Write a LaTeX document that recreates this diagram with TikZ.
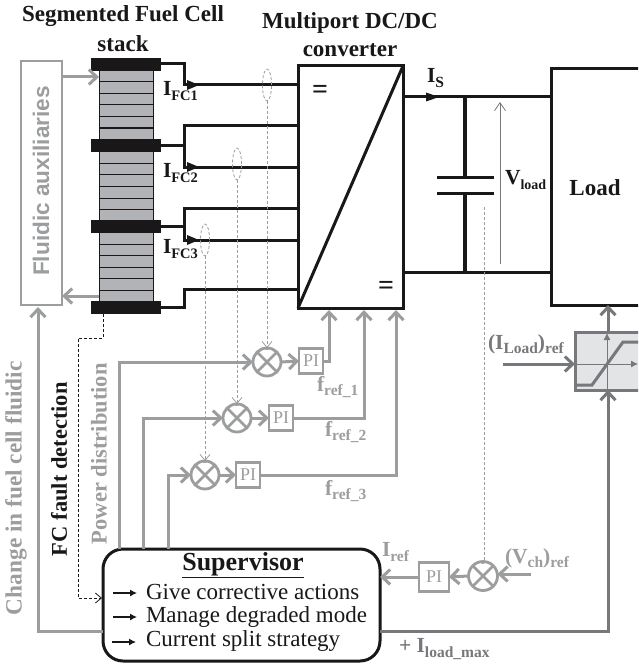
\documentclass[tikz,border=0pt]{standalone}
\usepackage{fontspec}
\setmainfont{Liberation Serif}
\setsansfont{Liberation Sans}
\usetikzlibrary{arrows.meta,shapes.geometric}
\definecolor{lg}{HTML}{9C9D9F}
\definecolor{dg}{HTML}{77787B}
\definecolor{bk}{HTML}{1A1718}
\definecolor{stackfill}{HTML}{B1B3B6}
\definecolor{satfill}{HTML}{E3E4E5}
\newcommand{\subt}[2][15.5]{\raisebox{-4.5pt}{\fontsize{#1}{#1}\selectfont #2}}
\tikzset{
 x=1pt,y=-1pt,
 every node/.style={inner sep=0pt,outer sep=0pt,text=bk},
 lab/.style={font=\bfseries\fontsize{23}{23}\selectfont},
 sublab/.style={font=\bfseries\fontsize{21.5}{21.5}\selectfont},
 rotlab/.style={font=\bfseries\fontsize{22.5}{22.5}\selectfont,rotate=90,anchor=west},
 glab/.style={font=\bfseries\fontsize{21.5}{21.5}\selectfont,text=lg},
 wire/.style={draw=bk,line width=3pt},
 cellline/.style={draw=bk,line width=1pt},
 plate/.style={fill=bk,minimum width=70pt,minimum height=13pt},
 gwire/.style={draw=lg,line width=3pt},
 gwireA/.style={gwire,-{Straight Barb[length=8pt,width=15pt,line width=3pt]}},
 dwire/.style={draw=dg,line width=3pt},
 dwireA/.style={dwire,-{Straight Barb[length=8pt,width=15pt,line width=3pt]}},
 sumj/.style={circle,draw=lg,line width=2.8pt,minimum size=27pt,
   path picture={\draw[lg,line width=2.8pt] (path picture bounding box.north west)--(path picture bounding box.south east)
     (path picture bounding box.north east)--(path picture bounding box.south west);}},
 pibox/.style={draw=lg,line width=2.8pt,fill=white,minimum width=24pt,minimum height=25pt,
   font=\fontsize{18}{18}\selectfont,text=lg},
 sense/.style={draw=lg,line width=.9pt,dash pattern=on 3pt off 2pt},
 senseA/.style={sense,-{Straight Barb[length=6pt,width=10pt,line width=.8pt]}},
 senseE/.style={ellipse,draw=lg,dash pattern=on 3pt off 2pt,line width=.8pt,minimum width=9pt,minimum height=32pt},
 minus/.style={font=\bfseries\fontsize{11}{11}\selectfont,text=lg},
 smallarrow/.style={draw=bk,line width=1.1pt,-{Latex[length=7pt,width=7pt]}},
 itemtxt/.style={font=\fontsize{23}{23}\selectfont,anchor=west},
 eqsign/.style={font=\bfseries\fontsize{28}{28}\selectfont},
}
\begin{document}
\begin{tikzpicture}
\useasboundingbox (0,0) rectangle (638,666);
\clip (0,0) rectangle (638,666);
\fill[white] (0,0) rectangle (638,666);

% titles
\node[lab] (t1) at (123,16) {Segmented Fuel Cell};
\node[lab] (t2) at (123,44) {stack};
\node[lab] (t3) at (350,23) {Multiport DC/DC};
\node[lab] (t4) at (350,50) {converter};

% fluidic auxiliaries
\node[draw=lg,line width=2.6pt,minimum width=41pt,minimum height=244pt] (fluid) at (41.5,183) {};
\node[rotate=90,font=\sffamily\bfseries\fontsize{22.6}{22.6}\selectfont,text=lg] (fluidt) at (41,181) {Fluidic auxiliaries};

% stack
\node[draw=bk,line width=.8pt,fill=stackfill,minimum width=54pt,minimum height=234pt] (stack) at (126,186) {};
\foreach \yy in {82,94,105,117,128,163,174,186,198,209,244,255,267,278,290}
  \path[cellline] (99,\yy) -- (153,\yy);
\node[plate] (p1) at (126,65) {};
\node[plate] (p2) at (126,145.5) {};
\node[plate] (p3) at (126,226) {};
\node[plate] (p4) at (126,307) {};

% converter
\node[draw=bk,line width=3pt,minimum width=105pt,minimum height=242pt] (conv) at (350.5,187) {};
\draw[wire] (conv.south west) -- (conv.north east);
\node[eqsign] (eq1) at (320,92) {=};
\node[eqsign] (eq2) at (386,288) {=};

% load
\node[draw=bk,line width=3pt,minimum width=120pt,minimum height=236pt] (load) at (611,187) {};
\node[font=\bfseries\fontsize{23}{23}\selectfont] (loadt) at (595,188) {Load};

% fuel cell wires
\coordinate (a1) at (184,64);  \coordinate (e1) at (298,85);
\coordinate (b2) at (184,126); \coordinate (e2a) at (298,126);
\coordinate (c2) at (184,167); \coordinate (e2b) at (298,167);
\coordinate (b3) at (184,208); \coordinate (e3a) at (298,208);
\coordinate (c3) at (184,240); \coordinate (e3b) at (298,240);
\coordinate (b4) at (184,289); \coordinate (e4) at (298,289);
\coordinate (tip1) at (199,85); \coordinate (tip2) at (199,167); \coordinate (tip3) at (199,240);
\path[wire] (p1.east |- a1) -- (a1) |- (e1);
\path[wire] (p2.east) -- (b2 |- p2.east);
\path[wire] (e2a) -- (b2) -- (c2) -- (e2b);
\path[wire] (p3.east) -- (b3 |- p3.east);
\path[wire] (e3a) -- (b3) -- (c3) -- (e3b);
\path[wire] (p4.east) -| (b4) -- (e4);
\foreach \n in {1,2,3}
  \fill[bk] (tip\n) -- ++(-12,-5) -- ++(0,10) -- cycle;
\node[sublab,anchor=west] (i1) at (163,91) {I\subt[14.5]{FC1}};
\node[sublab,anchor=west] (i2) at (163,173) {I\subt[14.5]{FC2}};
\node[sublab,anchor=west] (i3) at (163,249) {I\subt[14.5]{FC3}};

% output bus
\coordinate (bt) at (403,97); \coordinate (bb) at (403,272);
\coordinate (capt) at (465,177); \coordinate (capb) at (465,193);
\path[wire] (bt) -- (bt -| load.west);
\path[wire] (bb) -- (bb -| load.west);
\fill[bk] (439,97) -- ++(-13,-4.5) -- ++(0,9) -- cycle;
\node[sublab,anchor=west] (is) at (427,78) {I\subt{S}};
\path[wire,line width=3.2pt] (capt |- bt) -- (capt);
\path[wire,line width=3.2pt] (capb) -- (capb |- bb);
\path[wire] (437,177) -- (494,177);
\path[wire] (437,193) -- (494,193);
\coordinate (vb) at (500,264); \coordinate (vt) at (500,102);
\draw[draw=dg,line width=1pt,-{Straight Barb[length=8pt,width=11pt,line width=.8pt]}] (vb) -- (vt);
\node[sublab,anchor=west] (vl) at (505,180) {V\subt[14]{load}};

% ellipses
\node[senseE] (el1) at (267,85) {};
\node[senseE] (el2) at (237,164) {};
\node[senseE] (el3) at (205,240) {};

% control chains
\node[sumj,minimum size=28pt] (j1) at (267,362) {};
\node[sumj,minimum size=28pt] (j2) at (237,418) {};
\node[sumj,minimum size=28pt] (j3) at (205,475) {};
\node[sumj,minimum size=29pt] (j4) at (483,576) {};
\node[pibox] (pi1) at (311,361) {PI};
\node[pibox] (pi2) at (281,418) {PI};
\node[pibox] (pi3) at (248,475) {PI};
\node[pibox,minimum width=30pt,minimum height=29pt] (pi4) at (434,577) {PI};
\node[minus] at (267,351) {-};
\node[minus] at (237,407) {-};
\node[minus] at (205,464) {-};
\node[minus] at (483,565) {-};
\path[senseA] (el1.south) -- (j1.north);
\path[senseA] (el2.south) -- (j2.north);
\path[senseA] (el3.south) -- (j3.north);
\coordinate (vs) at (484,207);
\path[sense] (vs) -- (vs |- j4.north);

% supervisor
\node[draw=bk,line width=3pt,rounded corners=20pt,fill=white,minimum width=277pt,minimum height=112pt] (sup) at (241.5,605) {};
\coordinate (s1) at (119,549); \coordinate (s2) at (143,549); \coordinate (s3) at (168,549);
\path[gwireA] (s1) |- (j1.west);
\path[gwireA] (s2) |- (j2.west);
\path[gwireA] (s3) |- (j3.west);
\path[gwireA] (j1.east) -- (pi1.west);
\path[gwireA] (j2.east) -- (pi2.west);
\path[gwireA] (j3.east) -- (pi3.west);
\coordinate (c1in) at (329,310); \coordinate (c2in) at (364,310); \coordinate (c3in) at (396,310);
\path[gwireA] (pi1.east) -| (c1in);
\path[gwireA] (pi2.east) -| (c2in);
\path[gwireA] (pi3.east) -| (c3in);
\node[glab,anchor=west] (f1) at (317,387) {f\subt{ref\_1}};
\node[glab,anchor=west] (f2) at (325,432) {f\subt{ref\_2}};
\node[glab,anchor=west] (f3) at (325,491) {f\subt{ref\_3}};

% fluidic feedback
\coordinate (fl) at (38,631); \coordinate (ft) at (38,307);
\path[gwireA] (sup.west |- fl) -- (fl) -- (ft);
\coordinate (fa) at (62,77); \coordinate (fb) at (62,296);
\path[gwireA] (fa) -- (fa -| stack.west);
\path[gwireA] (fb -| stack.west) -- (fb);

% fault detection
\coordinate (fd1) at (103,314); \coordinate (fd2) at (103,338); \coordinate (fd3) at (78,338); \coordinate (fd4) at (78,598); \coordinate (fd5) at (102,598);
\draw[draw=bk,line width=.9pt,dash pattern=on 3pt off 2pt,-{Straight Barb[length=6pt,width=10pt,line width=.8pt]}] (fd1) -- (fd2) -- (fd3) -- (fd4) -- (fd5);

% rotated labels
\node[rotlab,text=lg,font=\bfseries\fontsize{23.3}{23.3}\selectfont] (chg) at (16,615) {Change in fuel cell fluidic};
\node[rotlab] (fcf) at (59,556) {FC fault detection};
\node[rotlab,text=lg] (pwr) at (99,544) {Power distribution};

% supervisor text
\node[font=\bfseries\fontsize{26}{26}\selectfont] (supt) at (243,565) {\underline{Supervisor}};
\coordinate (ar1) at (113,593); \coordinate (ar1e) at (137,593);
\coordinate (ar2) at (113,617); \coordinate (ar2e) at (137,617);
\coordinate (ar3) at (112,642); \coordinate (ar3e) at (136,642);
\path[smallarrow] (ar1) -- (ar1e);
\path[smallarrow] (ar2) -- (ar2e);
\path[smallarrow] (ar3) -- (ar3e);
\node[itemtxt] (l1) at (146,592) {Give corrective actions};
\node[itemtxt] (l2) at (146,617) {Manage degraded mode};
\node[itemtxt] (l3) at (146,641) {Current split strategy};

% current/voltage loop
\coordinate (vref) at (531,574);
\path[gwireA] (vref) -- (j4.east |- vref);
\path[gwireA] (j4.west) -- (pi4.east);
\path[gwireA] (pi4.west) -- (sup.east |- pi4.west);
\node[glab,anchor=west] (iref) at (382,552) {I\subt{ref}};
\node[glab,anchor=west] (vch) at (505,558) {(V\subt{ch})\subt{ref}};

% saturation block
\node[draw=dg,line width=3pt,fill=satfill,minimum width=90pt,minimum height=58pt] (sat) at (620,361) {};
\coordinate (ax1) at (607,389); \coordinate (ax2) at (607,333);
\coordinate (ax3) at (576,364); \coordinate (ax4) at (638,364);
\draw[dg,line width=.8pt,-{Latex[length=7pt,width=7pt]}] (ax1) -- (ax2);
\draw[dg,line width=.8pt,-{Latex[length=7pt,width=7pt]}] (ax3) -- (ax4);
\coordinate (sa) at (577,385); \coordinate (sb) at (592,385); \coordinate (sc) at (623,342); \coordinate (sd) at (645,342);
\draw[dg,line width=3pt] (sa) -- (sb) -- (sc) -- (sd);
\coordinate (lin) at (503,364);
\path[dwireA] (lin) -- (sat.west |- lin);
\node[glab,anchor=west,text=dg] (iload) at (488,344) {(I\subt{Load})\subt{ref}};
\coordinate (sup2) at (608,631);
\path[dwireA] (sup.east |- sup2) -- (sup2) -- (sat.south -| sup2);
\path[dwireA] (sat.north -| sup2) -- (load.south -| sup2);
\node[glab,anchor=west,text=dg] (ilm) at (399,649) {+ I\subt{load\_max}};
\end{tikzpicture}
\end{document}
